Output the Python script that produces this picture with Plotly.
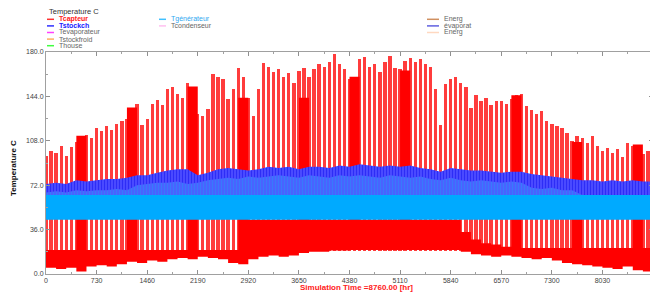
import plotly.graph_objects as go

# ---------------- data ----------------
hours = list(range(0, 8761, 73))          # sampling grid of the collector peaks
tcap_max = [96, 100, 98, 104, 96, 103, 107, 111, 113, 110,
            118, 116, 120, 117, 122, 124, 126, 135, 138, 121,
            126, 138, 141, 137, 150, 152, 146, 143, 155, 140,
            130, 128, 134, 162, 160, 158, 142, 150, 167, 160,
            143, 128, 150, 171, 168, 164, 166, 160, 163, 155,
            165, 167, 160, 166, 170, 168, 172, 178, 170, 166,
            158, 160, 174, 176, 168, 170, 164, 172, 177, 167,
            166, 173, 175, 172, 174, 170, 168, 150, 121, 154,
            158, 160, 155, 152, 135, 145, 140, 143, 137, 140,
            140, 138, 142, 145, 146, 136, 133, 130, 132, 124,
            122, 120, 118, 114, 108, 112, 110, 106, 112, 104,
            100, 102, 98, 101, 95, 106, 104, 100, 97, 100, 98]
tcap_night = 19.0                         # night level of the collector

env_hours = list(range(0, 8761, 146))     # grid of the envelopes
tcap_floor = [5, 4, 5, 2, 6, 7, 6, 8, 10, 9,
              11, 10, 12, 13, 12, 14, 13, 12, 9, 8,
              12, 14, 15, 14, 15, 17, 18, 18, 19, 19,
              19.5, 19.5, 19.5, 19.5, 19.5, 19.5, 19.5, 19.5, 19.5, 19.5,
              19.5, 18, 16, 15, 14, 15, 14, 13, 12, 13,
              11, 9, 8, 7, 6, 5, 4, 6, 3, 2, 4]
tcap_solid = [19.5, 19.5, 19.5, 112, 19.5, 19.5, 19.5, 19.5, 135, 19.5,
              19.5, 19.5, 19.5, 19.5, 152, 19.5, 19.5, 19.5, 19.5, 143,
              44, 44, 44, 44, 44, 143, 44, 44, 44, 44,
              160, 44, 44, 44, 44, 165, 44, 44, 44, 44,
              44, 34, 28, 25, 24, 22, 145, 21, 21, 21,
              21, 21, 107, 21, 21, 21, 21, 21, 105, 21, 21]
tstock_top = [73, 74, 73, 76, 75, 76, 77, 77, 78, 80,
              80, 82, 84, 85, 85, 80, 82, 85, 86, 85,
              84, 85, 87, 86, 87, 85, 87, 87, 86, 88,
              87, 89, 88, 87, 88, 87, 88, 86, 85, 83,
              86, 85, 84, 84, 83, 82, 83, 83, 81, 80,
              79, 78, 77, 76, 76, 75, 76, 75, 76, 75, 75]
tgen_top = [66, 67, 66, 68, 67, 68, 68, 69, 68,
            72, 73, 74, 74, 75, 73, 74,
            76, 77, 78, 77, 79, 78, 79, 80, 79, 78, 80, 79, 78, 80,
            79, 80, 79, 78, 80, 79, 78, 79, 77, 76, 78,
            76, 75, 76, 75, 74, 75, 74,
            70, 69, 70, 68, 68,
            64, 64, 64, 64, 64, 64, 64, 64]
tgen_low = 44.0
tgen_mid = 64.0

x_ticks = list(range(0, 8761, 730))
y_ticks = [0, 36, 72, 108, 144, 180]

legend_items = [  # name, line colour, text colour, bold, column, row
    ("Tcapteur", "#ff3030", "#ff2020", True, 0, 0),
    ("Tstockch", "#3030ff", "#2020ff", True, 0, 1),
    ("Tevaporateur", "#ff40ff", "#666666", False, 0, 2),
    ("Tstockfroid", "#ffb060", "#666666", False, 0, 3),
    ("Thouse", "#40ff40", "#666666", False, 0, 4),
    ("Tgénérateur", "#40c0ff", "#30a8f0", False, 1, 0),
    ("Tcondenseur", "#ffc0f0", "#666666", False, 1, 1),
    ("Energ", "#d09060", "#666666", False, 2, 0),
    ("évaporat", "#6060e0", "#666666", False, 2, 1),
    ("Energ", "#ffd8c0", "#666666", False, 2, 2),
]

# ---------------- figure ----------------
OFF = 8                      # the page body margin shifts the figure by 8 px
W, H = 650, 285
L, R, T, B = 38, 5, 44, 19   # plot area = page x 46..653, y 52..274
PW, PH = W - L - R, H - T - B
FONT = "Liberation Sans, Arial, sans-serif"


def px(x):          # page pixel x -> paper
    return (x - OFF - L) / PW


def py(y):          # page pixel y -> paper
    return (H - B - (y - OFF)) / PH


fig = go.Figure()

# collector daily peaks
fig.add_trace(go.Bar(
    x=hours, y=[v - tcap_night for v in tcap_max], base=[tcap_night] * len(hours),
    width=48, marker=dict(color="#ff3c3c", line=dict(width=0)), hoverinfo="skip"))

# collector solid band
fig.add_trace(go.Scatter(x=env_hours, y=tcap_floor, mode="lines", line=dict(width=0, shape="hv"),
                         hoverinfo="skip"))
fig.add_trace(go.Scatter(x=env_hours, y=tcap_solid, mode="lines", line=dict(width=0, shape="hv"),
                         fill="tonexty", fillcolor="#ff0000", hoverinfo="skip"))

# storage (Tstockch) band
fig.add_trace(go.Scatter(x=env_hours, y=[tgen_mid] * len(env_hours), mode="lines",
                         line=dict(width=0), hoverinfo="skip"))
fig.add_trace(go.Scatter(x=env_hours, y=tstock_top, mode="lines", line=dict(width=0),
                         fill="tonexty", fillcolor="#4444ff",
                         fillpattern=dict(shape="|", fgcolor="#1010ee", bgcolor="#4a4aff",
                                          size=3, solidity=0.35),
                         hoverinfo="skip"))

# generator band
fig.add_trace(go.Scatter(x=env_hours, y=[tgen_low] * len(env_hours), mode="lines",
                         line=dict(width=0), hoverinfo="skip"))
fig.add_trace(go.Scatter(x=env_hours, y=[tgen_mid] * len(env_hours), mode="lines",
                         line=dict(width=0), fill="tonexty", fillcolor="#00aaff",
                         hoverinfo="skip"))
fig.add_trace(go.Scatter(x=env_hours, y=tgen_top, mode="lines", line=dict(width=0),
                         fill="tonexty", fillcolor="rgba(0,0,0,0)",
                         fillpattern=dict(shape="|", fgcolor="#45c6ff", bgcolor="rgba(0,0,0,0)",
                                          size=3, solidity=0.6),
                         hoverinfo="skip"))

axis_common = dict(showgrid=False, zeroline=False, showline=True, linecolor="#a0a0a0",
                   linewidth=1, mirror="ticks", ticks="inside", ticklen=4, tickcolor="#909090",
                   tickfont=dict(family=FONT, size=7, color="#444444"))

fig.update_xaxes(range=[0, 8760], tickmode="array", tickvals=x_ticks,
                 ticktext=[str(v) for v in x_ticks],
                 minor=dict(ticks="inside", ticklen=2, tickcolor="#a0a0a0", dtick=365, tick0=0),
                 **axis_common)
fig.update_yaxes(range=[0, 180], tickmode="array", tickvals=y_ticks,
                 ticktext=[f"{v:.1f}" for v in y_ticks],
                 minor=dict(ticks="inside", ticklen=2, tickcolor="#a0a0a0", dtick=18, tick0=0),
                 **axis_common)

annotations = [
    dict(text="Temperature C", x=px(47), y=py(11.5), xanchor="left", yanchor="middle",
         font=dict(family=FONT, size=7.5, color="#333333")),
    dict(text="<b>Temperature C</b>", x=px(13), y=py(168), textangle=-90, xanchor="center",
         yanchor="middle", font=dict(family=FONT, size=8, color="#111111")),
    dict(text="<b>Simulation Time =8760.00 [hr]</b>", x=px(356), y=py(287), xanchor="center",
         yanchor="middle", font=dict(family=FONT, size=8, color="#ff2020")),
]
shapes = []
col_x = [47, 159, 427]
col_len = [7, 7, 12]
for name, lc, tc, bold, col, row in legend_items:
    ypx = 19.3 + 6.6 * row
    x0 = col_x[col]
    x1 = x0 + col_len[col]
    shapes.append(dict(type="line", xref="paper", yref="paper", x0=px(x0), x1=px(x1),
                       y0=py(ypx), y1=py(ypx), line=dict(color=lc, width=1.5)))
    annotations.append(dict(text=f"<b>{name}</b>" if bold else name, x=px(x1 + 3), y=py(ypx),
                            xanchor="left", yanchor="middle", showarrow=False,
                            font=dict(family=FONT, size=7, color=tc)))
for a in annotations:
    a.update(xref="paper", yref="paper", showarrow=False)

fig.update_layout(width=W, height=H, margin=dict(l=L, r=R, t=T, b=B, pad=0),
                  plot_bgcolor="white", paper_bgcolor="white", showlegend=False,
                  barmode="overlay", bargap=0, annotations=annotations, shapes=shapes)

fig.write_html("out.html")
